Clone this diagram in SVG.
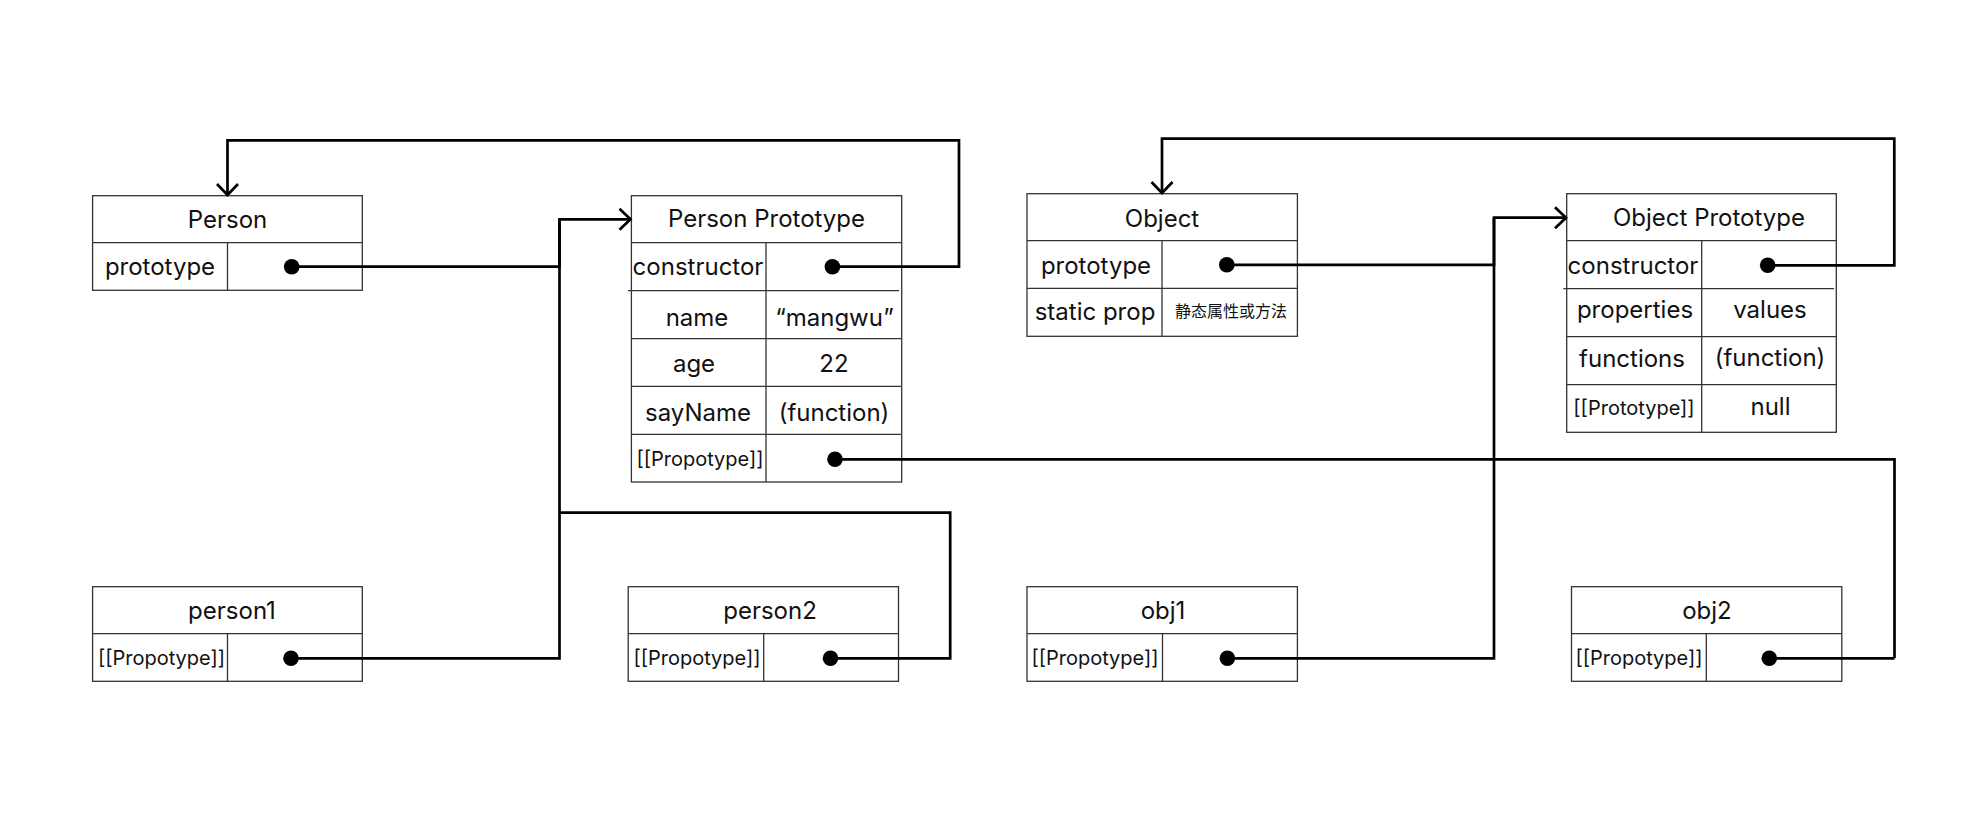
<svg xmlns="http://www.w3.org/2000/svg" width="1976" height="816" viewBox="0 0 1976 816">
<style>
.bg{fill:#ffffff}
.box{fill:#ffffff;stroke:#333333;stroke-width:1.3}
.ln{stroke:#333333;stroke-width:1.3;fill:none}
.t{font-family:Inter,"Liberation Sans","Noto Sans CJK SC",sans-serif;font-size:24px;fill:#111111;text-anchor:middle}
.s{font-size:20px}
.cjk{font-family:"Noto Sans CJK SC",Inter,sans-serif;font-size:16px}
.conn{stroke:#000000;stroke-width:2.7;fill:none;stroke-linejoin:miter}
.dot{fill:#000000}
</style>
<defs>
<marker id="arr" markerUnits="userSpaceOnUse" markerWidth="30" markerHeight="30" viewBox="-15 -15 30 30" refX="0" refY="0" orient="auto">
<path d="M-11,-10.5 L0,0 L-11,10.5" fill="none" stroke="#000000" stroke-width="2.7"/>
</marker>
</defs>
<rect class="bg" x="0" y="0" width="1976" height="816"/>

<g id="person">
<rect class="box" x="92.6" y="195.7" width="269.7" height="94.6"/>
<line class="ln" x1="92.6" y1="242.7" x2="362.3" y2="242.7"/>
<line class="ln" x1="227.5" y1="242.7" x2="227.5" y2="290.3"/>
<text class="t" x="227.5" y="228">Person</text>
<text class="t" x="160" y="275">prototype</text>
<circle class="dot" cx="291.7" cy="266.7" r="7.8"/>
</g>

<g id="person-prototype">
<rect class="box" x="631.4" y="195.7" width="270.3" height="286.3"/>
<line class="ln" x1="631.4" y1="242.7" x2="901.7" y2="242.7"/>
<line class="ln" x1="628" y1="290.7" x2="899" y2="290.7"/>
<line class="ln" x1="631.4" y1="338.7" x2="901.7" y2="338.7"/>
<line class="ln" x1="631.4" y1="386.3" x2="901.7" y2="386.3"/>
<line class="ln" x1="631.4" y1="434.3" x2="901.7" y2="434.3"/>
<line class="ln" x1="766" y1="242.7" x2="766" y2="482"/>
<text class="t" x="766.5" y="227">Person Prototype</text>
<text class="t" x="698" y="275">constructor</text>
<circle class="dot" cx="832.4" cy="266.7" r="7.8"/>
<text class="t" x="697" y="326">name</text>
<text class="t" x="834.5" y="326">“mangwu”</text>
<text class="t" x="694" y="372">age</text>
<text class="t" x="834" y="372">22</text>
<text class="t" x="698" y="421">sayName</text>
<text class="t" x="834" y="421">(function)</text>
<text class="t s" x="700" y="466">[[Propotype]]</text>
<circle class="dot" cx="835" cy="459.3" r="7.8"/>
</g>

<g id="object">
<rect class="box" x="1027" y="193.7" width="270.4" height="142.6"/>
<line class="ln" x1="1027" y1="240.7" x2="1297.4" y2="240.7"/>
<line class="ln" x1="1027" y1="288.3" x2="1297.4" y2="288.3"/>
<line class="ln" x1="1162" y1="240.7" x2="1162" y2="336.3"/>
<text class="t" x="1162" y="226.5">Object</text>
<text class="t" x="1096" y="273.5">prototype</text>
<circle class="dot" cx="1226.8" cy="264.8" r="7.8"/>
<text class="t" x="1095" y="320">static prop</text>
<text class="t cjk" x="1231" y="317">静态属性或方法</text>
</g>

<g id="object-prototype">
<rect class="box" x="1566.7" y="193.7" width="269.6" height="238.6"/>
<line class="ln" x1="1566.7" y1="240.7" x2="1836.3" y2="240.7"/>
<line class="ln" x1="1563.3" y1="288.7" x2="1834" y2="288.7"/>
<line class="ln" x1="1566.7" y1="336.7" x2="1836.3" y2="336.7"/>
<line class="ln" x1="1566.7" y1="384.7" x2="1836.3" y2="384.7"/>
<line class="ln" x1="1701.7" y1="240.7" x2="1701.7" y2="432.3"/>
<text class="t" x="1709" y="225.5">Object Prototype</text>
<text class="t" x="1633" y="273.5">constructor</text>
<circle class="dot" cx="1767.7" cy="265.3" r="7.8"/>
<text class="t" x="1635" y="318">properties</text>
<text class="t" x="1770" y="318">values</text>
<text class="t" x="1632" y="366.5">functions</text>
<text class="t" x="1770" y="365.5">(function)</text>
<text class="t s" x="1634" y="414.5">[[Prototype]]</text>
<text class="t" x="1770.5" y="415">null</text>
</g>

<g id="person1">
<rect class="box" x="92.6" y="586.7" width="269.7" height="94.6"/>
<line class="ln" x1="92.6" y1="633.7" x2="362.3" y2="633.7"/>
<line class="ln" x1="227.5" y1="633.7" x2="227.5" y2="681.3"/>
<text class="t" x="232" y="619">person1</text>
<text class="t s" x="161.5" y="665">[[Propotype]]</text>
<circle class="dot" cx="291" cy="658.3" r="7.8"/>
</g>

<g id="person2">
<rect class="box" x="628.2" y="586.7" width="270.3" height="94.6"/>
<line class="ln" x1="628.2" y1="633.7" x2="898.5" y2="633.7"/>
<line class="ln" x1="763.7" y1="633.7" x2="763.7" y2="681.3"/>
<text class="t" x="770" y="619">person2</text>
<text class="t s" x="697" y="665">[[Propotype]]</text>
<circle class="dot" cx="830.5" cy="658.3" r="7.8"/>
</g>

<g id="obj1">
<rect class="box" x="1027" y="586.7" width="270.4" height="94.6"/>
<line class="ln" x1="1027" y1="633.7" x2="1297.4" y2="633.7"/>
<line class="ln" x1="1162.5" y1="633.7" x2="1162.5" y2="681.3"/>
<text class="t" x="1163" y="619">obj1</text>
<text class="t s" x="1095" y="665">[[Propotype]]</text>
<circle class="dot" cx="1227.4" cy="658.3" r="7.8"/>
</g>

<g id="obj2">
<rect class="box" x="1571.5" y="586.7" width="270.3" height="94.6"/>
<line class="ln" x1="1571.5" y1="633.7" x2="1841.8" y2="633.7"/>
<line class="ln" x1="1706.3" y1="633.7" x2="1706.3" y2="681.3"/>
<text class="t" x="1707" y="619">obj2</text>
<text class="t s" x="1639" y="665">[[Propotype]]</text>
<circle class="dot" cx="1769.3" cy="658.3" r="7.8"/>
</g>

<g id="connectors">
<path class="conn" d="M291.7,266.7 H559.5 V219.3 H630.5" marker-end="url(#arr)"/>
<path class="conn" d="M291,658.3 H559.5 V219.3"/>
<path class="conn" d="M830.5,658.3 H950.2 V512.7 H559.5"/>
<path class="conn" d="M832.4,266.7 H959 V140.3 H227.5 V195" marker-end="url(#arr)"/>
<path class="conn" d="M835,459.3 H1894.5 V658.3"/>
<path class="conn" d="M1769.3,658.3 H1894.5"/>
<path class="conn" d="M1226.8,264.8 H1494 V217.7 H1566" marker-end="url(#arr)"/>
<path class="conn" d="M1227.4,658.3 H1494 V217.7"/>
<path class="conn" d="M1767.7,265.3 H1894.3 V138.7 H1162 V193" marker-end="url(#arr)"/>
</g>
</svg>
